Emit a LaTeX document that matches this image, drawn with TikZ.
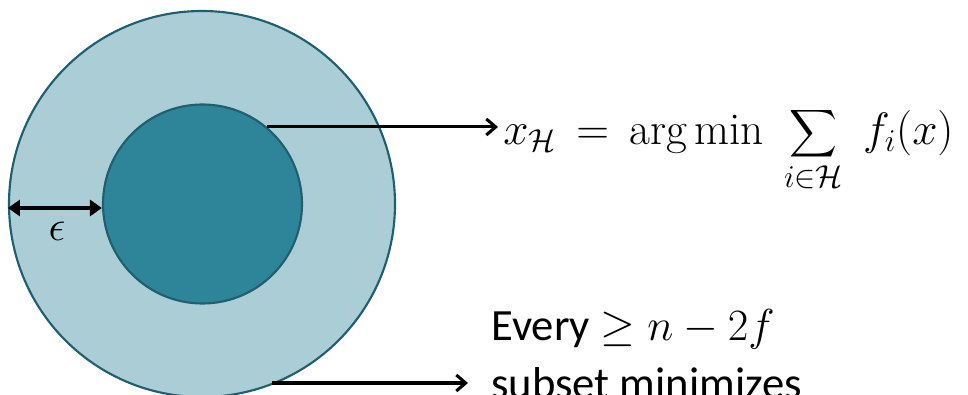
\documentclass[tikz,border=0pt]{standalone}
\usepackage{fix-cm}
\usepackage{exscale}
\usepackage{fontspec}
\usetikzlibrary{arrows.meta}
\newfontfamily\calibri{Carlito}
\definecolor{outerfill}{HTML}{ABCED6}
\definecolor{innerfill}{HTML}{2E8499}
\definecolor{rimcol}{HTML}{1F5F6F}
\begin{document}
\begin{tikzpicture}[x=0.75pt,y=-0.75pt,
  rim/.style={draw=rimcol,line width=1.6pt},
  conn/.style={line width=2.3pt,-{Straight Barb[length=7pt,width=12pt,line width=2.3pt]}},
  dim/.style={line width=2.3pt,{Triangle[length=9pt,width=12pt]}-{Triangle[length=9pt,width=12pt]}},
  mathlbl/.style={font=\fontsize{34}{40}\selectfont,inner sep=0pt},
  epslbl/.style={font=\fontsize{32}{38}\selectfont,inner sep=0pt},
  txtlbl/.style={font=\calibri\fontsize{33.5}{43.5}\selectfont,inner sep=0pt,align=left}]
\useasboundingbox (0,0) rectangle (968,395);
\clip (0,0) rectangle (968,395);
\node[rim,fill=outerfill,circle,minimum size=386*0.75pt,inner sep=0pt] (outer) at (202,204) {};
\node[rim,fill=innerfill,circle,minimum size=199*0.75pt,inner sep=0pt] (inner) at (202.5,204) {};
\node[mathlbl,anchor=base west] (argmin) at (503,145) {$x_{\mathcal{H}}\,=\,\arg\min\;\displaystyle\sum_{i\in\mathcal{H}}\;f_i(x)$};
\node[txtlbl,anchor=base west] (every) at (491,398) {Every $\geq n-2f$\\subset minimizes};
\node[epslbl] (eps) at (57,231) {$\epsilon$};
\coordinate (c1) at (inner.50);
\coordinate (t1) at (498,134);
\draw[conn] (c1) -- (c1 -| t1);
\coordinate (c2) at (272,383);
\coordinate (t2) at (468,383);
\draw[conn] (c2) -- (t2);
\draw[dim] (outer.west |- 0,208) -- (inner.west |- 0,208);
\end{tikzpicture}
\end{document}
